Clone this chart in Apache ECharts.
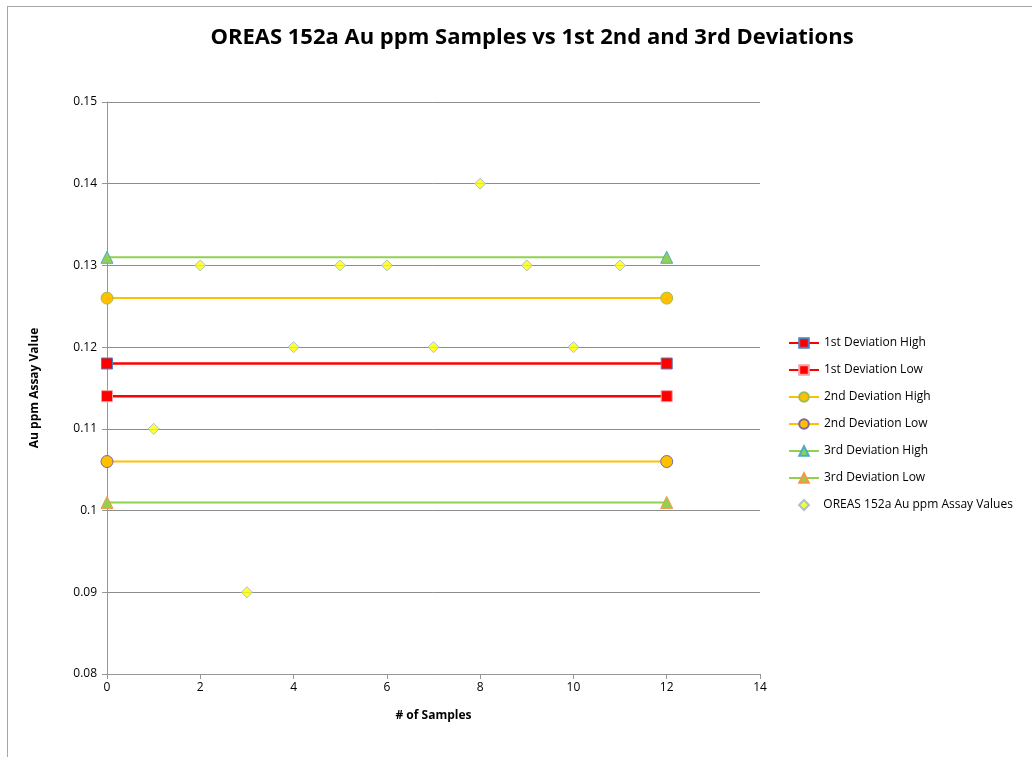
<!DOCTYPE html>
<html>
<head>
<meta charset="utf-8">
<script src="https://cdn.jsdelivr.net/npm/echarts@6/dist/echarts.min.js"></script>
<style>
html,body{margin:0;padding:0;background:#fff;}
#frame{position:absolute;left:7px;top:6px;width:1100px;height:800px;border-top:1px solid #a6a6a6;border-left:1px solid #a6a6a6;}
#chart{position:absolute;left:0;top:0;width:1032px;height:757px;}
</style>
</head>
<body>
<div id="frame"></div>
<div id="chart"></div>
<script>
const titleText = 'OREAS 152a Au ppm Samples vs 1st 2nd and 3rd Deviations';
const deviationX = [0, 12];
const dev1High = 0.118;
const dev1Low = 0.114;
const dev2High = 0.126;
const dev2Low = 0.106;
const dev3High = 0.131;
const dev3Low = 0.101;
const sampleX = [1, 2, 3, 4, 5, 6, 7, 8, 9, 10, 11];
const sampleY = [0.11, 0.13, 0.09, 0.12, 0.13, 0.13, 0.12, 0.14, 0.13, 0.12, 0.13];
const seriesNames = ['1st Deviation High','1st Deviation Low','2nd Deviation High','2nd Deviation Low','3rd Deviation High','3rd Deviation Low','OREAS 152a Au ppm Assay Values'];

const font = 'Open Sans, Liberation Sans, sans-serif';
function hline(v){ return deviationX.map(x => [x, v]); }
function devSeries(name, v, color, lw, symbol, size, fill, border){
  return {
    name: name, type: 'line', data: hline(v),
    symbol: symbol, symbolSize: size,
    lineStyle: {color: color, width: lw},
    itemStyle: {color: fill, borderColor: border, borderWidth: 1},
    emphasis: {disabled: true},
    z: 3
  };
}
const legendText = {fontFamily: font, fontSize: 12, color: '#000'};
const chart = echarts.init(document.getElementById('chart'), null, {renderer: 'canvas'});
chart.setOption({
  animation: false,
  backgroundColor: 'transparent',
  title: {
    text: titleText, left: 527, textAlign: 'center', top: 22,
    textStyle: {fontFamily: font, fontWeight: 'bold', fontSize: 22, color: '#000'}
  },
  grid: {left: 107, right: 272, top: 102, bottom: 83, containLabel: false},
  legend: [{
    orient: 'vertical', left: 783, top: 332, itemGap: 15, itemWidth: 30, itemHeight: 12,
    data: seriesNames.slice(0, 6),
    textStyle: legendText
  }, {
    orient: 'vertical', left: 793, top: 494, itemWidth: 10, itemHeight: 10,
    data: [seriesNames[6]],
    textStyle: legendText,
    formatter: n => '   ' + n
  }],
  xAxis: {
    type: 'value', min: 0, max: 14, interval: 2,
    name: '# of Samples', nameLocation: 'middle', nameGap: 36,
    nameTextStyle: {fontFamily: font, fontWeight: 'bold', fontSize: 12, color: '#000'},
    axisLine: {show: true, lineStyle: {color: '#969696', width: 1}},
    axisTick: {show: true, length: 5, lineStyle: {color: '#969696'}},
    axisLabel: {fontFamily: font, fontSize: 12, color: '#000', margin: 8},
    splitLine: {show: false}
  },
  yAxis: {
    type: 'value', min: 0.08, max: 0.15, interval: 0.01,
    name: 'Au ppm Assay Value', nameLocation: 'middle', nameGap: 66,
    nameTextStyle: {fontFamily: font, fontWeight: 'bold', fontSize: 12, color: '#000'},
    axisLine: {show: true, lineStyle: {color: '#969696', width: 1}},
    axisTick: {show: true, length: 5, lineStyle: {color: '#969696'}},
    axisLabel: {fontFamily: font, fontSize: 12, color: '#000', margin: 10,
      formatter: v => String(+v.toFixed(2))},
    splitLine: {show: true, lineStyle: {color: '#8c8c8c', width: 1}}
  },
  series: [
    devSeries(seriesNames[0], dev1High, '#ff0000', 2.5, 'rect', 11, '#ff0000', '#4f81bd'),
    devSeries(seriesNames[1], dev1Low, '#ff0000', 2.5, 'rect', 11, '#ff0000', '#f2a0a0'),
    devSeries(seriesNames[2], dev2High, '#ffc000', 2, 'circle', 12, '#ffc000', '#9bbb59'),
    devSeries(seriesNames[3], dev2Low, '#ffc000', 2, 'circle', 12, '#ffc000', '#8064a2'),
    devSeries(seriesNames[4], dev3High, '#92d050', 2, 'triangle', 12, '#92d050', '#4bacc6'),
    devSeries(seriesNames[5], dev3Low, '#92d050', 2, 'triangle', 12, '#92d050', '#f79646'),
    {
      name: seriesNames[6], type: 'scatter',
      data: sampleX.map((x, i) => [x, sampleY[i]]),
      symbol: 'diamond', symbolSize: 11,
      itemStyle: {color: '#ffff00', borderColor: '#95b3d7', borderWidth: 1},
      emphasis: {disabled: true},
      z: 4
    }
  ]
});
</script>
</body>
</html>
